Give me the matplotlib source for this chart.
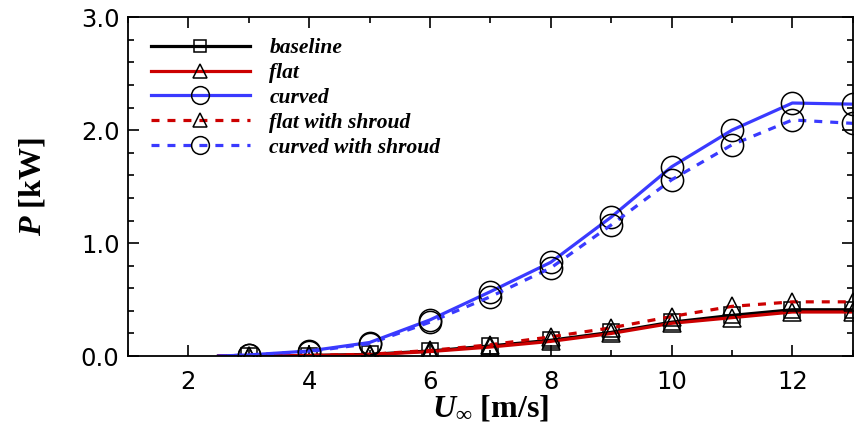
import matplotlib
matplotlib.use("Agg")
import matplotlib.pyplot as plt
from matplotlib.ticker import MultipleLocator

plt.rcParams["mathtext.fontset"] = "custom"
plt.rcParams["mathtext.rm"] = "Liberation Serif:bold"
plt.rcParams["mathtext.it"] = "Liberation Serif:bold:italic"
plt.rcParams["mathtext.bf"] = "Liberation Serif:bold"

# wind speed [m/s]; the curves start at 2.5 with no marker there
u = [2.5, 3, 4, 5, 6, 7, 8, 9, 10, 11, 12, 13]

baseline = [0.0, 0.0, 0.005, 0.015, 0.045, 0.09, 0.14, 0.21, 0.30, 0.36, 0.41, 0.41]
flat = [0.0, 0.0, 0.005, 0.012, 0.04, 0.08, 0.13, 0.20, 0.29, 0.34, 0.39, 0.39]
curved = [0.0, 0.01, 0.045, 0.12, 0.32, 0.57, 0.83, 1.23, 1.675, 2.0, 2.24, 2.23]
flat_shroud = [0.0, 0.0, 0.006, 0.016, 0.05, 0.10, 0.17, 0.25, 0.35, 0.44, 0.48, 0.48]
curved_shroud = [0.0, 0.01, 0.04, 0.11, 0.30, 0.525, 0.78, 1.16, 1.56, 1.87, 2.09, 2.06]

labels = ["baseline", "flat", "curved", "flat with shroud", "curved with shroud"]

blue = "#3a3aff"
red = "#cc0000"

fig = plt.figure(figsize=(8.64, 4.29), dpi=100)
ax = fig.add_axes([0.148, 0.170, 0.839, 0.790])

mk = dict(markerfacecolor="none", markeredgecolor="black", markeredgewidth=1.1,
          markevery=range(1, len(u)))

ax.plot(u, baseline, color="black", lw=2.3, marker="s", markersize=11, label=labels[0], **mk)
ax.plot(u, flat, color=red, lw=2.3, marker="^", markersize=13, label=labels[1], **mk)
ax.plot(u, curved, color=blue, lw=2.3, marker="o", markersize=16, label=labels[2], **mk)
ax.plot(u, flat_shroud, color=red, lw=2.3, ls=(0, (2.5, 2.5)), marker="^", markersize=13,
        label=labels[3], **mk)
ax.plot(u, curved_shroud, color=blue, lw=2.3, ls=(0, (2.5, 2.5)), marker="o", markersize=16,
        label=labels[4], **mk)

ax.set_xlim(1, 13)
ax.set_ylim(0, 3.0)
ax.xaxis.set_major_locator(MultipleLocator(2))
ax.xaxis.set_minor_locator(MultipleLocator(1))
ax.yaxis.set_major_locator(MultipleLocator(1.0))
ax.yaxis.set_minor_locator(MultipleLocator(0.2))
ax.set_yticks([0, 1, 2, 3])
ax.set_yticklabels(["0.0", "1.0", "2.0", "3.0"])

ax.tick_params(which="both", direction="in", top=True, right=True, width=1.2)
ax.tick_params(which="major", length=8, labelsize=17.5)
ax.tick_params(axis="x", which="major", pad=10)
ax.tick_params(axis="y", which="major", pad=6)
ax.tick_params(which="minor", length=4.5)
for lab in ax.get_xticklabels() + ax.get_yticklabels():
    lab.set_fontfamily("DejaVu Sans")
for s in ax.spines.values():
    s.set_linewidth(1.3)

ax.set_xlabel(r"$U_\infty$ [m/s]", fontsize=23, fontfamily="Liberation Serif",
              fontweight="bold", labelpad=0)
ax.set_ylabel(r"$P$ [kW]", fontsize=23, fontfamily="Liberation Serif",
              fontweight="bold", labelpad=24)

leg = ax.legend(loc="upper left", bbox_to_anchor=(0.005, 0.995), frameon=False,
                handlelength=4.6, handletextpad=0.9, labelspacing=0.22, markerscale=0.8,
                prop={"family": "Liberation Serif", "style": "italic", "weight": "bold",
                      "size": 15.5})

fig.savefig("out.png", dpi=100)
